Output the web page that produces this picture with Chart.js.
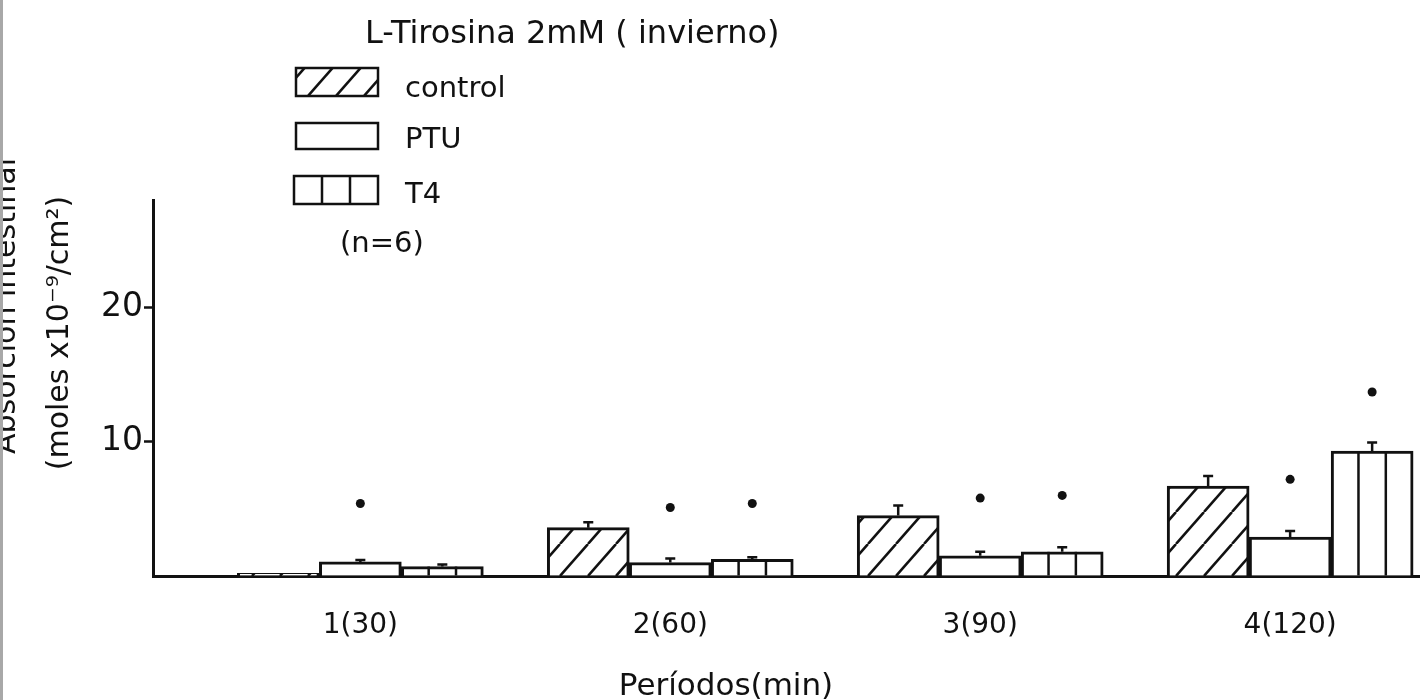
<!DOCTYPE html>
<html>
<head>
<meta charset="utf-8">
<script src="https://cdn.jsdelivr.net/npm/chart.js@4.4.1/dist/chart.umd.min.js"></script>
<style>
  html, body { margin: 0; padding: 0; background: #fff; overflow: hidden; }
  #wrap { position: relative; width: 1420px; height: 700px; }
  #edge { position: absolute; left: 0; top: 0; width: 3px; height: 700px; background: #a8a8a8; }
</style>
</head>
<body>
<div id="wrap">
  <canvas id="chart"></canvas>
  <div id="edge"></div>
</div>
<script>
// periods (min)
const periods = ['1(30)', '2(60)', '3(90)', '4(120)'];
const seriesNames = ['control', 'PTU', 'T4'];

// absorption, moles x10^-9 / cm2
const control = [0.2, 3.6, 4.5, 6.7];
const ptu = [1.05, 1.0, 1.5, 2.9];
const t4 = [0.7, 1.25, 1.8, 9.3];

// error bars (upper only)
const controlErr = [0, 0.4, 0.75, 0.75];
const ptuErr = [0.15, 0.3, 0.3, 0.45];
const t4Err = [0.15, 0.15, 0.35, 0.65];

// significance dots drawn above the bars
const ptuDots = [5.4, 5.1, 5.8, 7.2];
const t4Dots = [null, 5.4, 6.0, 13.7];

const yTicks = [10, 20];
const ink = '#111';
const FONT = '"DejaVu Sans", sans-serif';

const canvas = document.getElementById('chart');
const ctx = canvas.getContext('2d');

function makeHatch() {
  const w = 28, h = 32;
  const c = document.createElement('canvas');
  c.width = w; c.height = h;
  const g = c.getContext('2d');
  g.fillStyle = '#fff';
  g.fillRect(0, 0, w, h);
  g.strokeStyle = ink;
  g.lineWidth = 2.5;
  for (const k of [-1, 0, 1]) {
    g.beginPath();
    g.moveTo(k * w, h);
    g.lineTo(k * w + w, 0);
    g.stroke();
  }
  return ctx.createPattern(c, 'repeat');
}
const hatch = makeHatch();

const toPoints = arr => arr.map((v, i) => ({ x: i + 1, y: v }));

// error bars, dots and T4 dividers, all placed from the bar elements / y scale
const extras = {
  id: 'extras',
  afterDatasetsDraw(chart) {
    const c = chart.ctx;
    const y = chart.scales.y;
    const errs = [controlErr, ptuErr, t4Err];
    const vals = [control, ptu, t4];
    c.save();
    c.strokeStyle = ink;
    c.fillStyle = ink;
    c.lineWidth = 2.5;

    // T4 vertical dividers
    chart.getDatasetMeta(2).data.forEach(bar => {
      const left = bar.x - bar.width / 2;
      for (const f of [1 / 3, 2 / 3]) {
        const xx = left + bar.width * f;
        c.beginPath();
        c.moveTo(xx, bar.base);
        c.lineTo(xx, bar.y);
        c.stroke();
      }
    });

    // error bars
    errs.forEach((errArr, di) => {
      chart.getDatasetMeta(di).data.forEach((bar, i) => {
        if (!errArr[i]) return;
        const top = y.getPixelForValue(vals[di][i] + errArr[i]);
        c.beginPath();
        c.moveTo(bar.x, bar.y);
        c.lineTo(bar.x, top);
        c.moveTo(bar.x - 5, top);
        c.lineTo(bar.x + 5, top);
        c.stroke();
      });
    });

    // dots
    [[1, ptuDots], [2, t4Dots]].forEach(([di, dots]) => {
      chart.getDatasetMeta(di).data.forEach((bar, i) => {
        if (dots[i] == null) return;
        c.beginPath();
        c.arc(bar.x, y.getPixelForValue(dots[i]), 4.5, 0, Math.PI * 2);
        c.fill();
      });
    });
    c.restore();
  },
  afterDraw(chart) {
    const c = chart.ctx;
    c.save();
    c.fillStyle = ink;
    c.strokeStyle = ink;
    c.textBaseline = 'alphabetic';

    // legend block
    c.font = '32px ' + FONT;
    c.textAlign = 'left';
    c.fillText('L-Tirosina 2mM ( invierno)', 365, 43);

    c.lineWidth = 2.5;
    c.fillStyle = hatch;
    c.fillRect(296, 68, 82, 28);
    c.strokeRect(296, 68, 82, 28);
    c.fillStyle = '#fff';
    c.fillRect(296, 123, 82, 26);
    c.strokeRect(296, 123, 82, 26);
    c.fillRect(294, 176, 84, 28);
    c.strokeRect(294, 176, 84, 28);
    c.beginPath();
    c.moveTo(322, 176); c.lineTo(322, 204);
    c.moveTo(350, 176); c.lineTo(350, 204);
    c.stroke();

    c.fillStyle = ink;
    c.font = '29px ' + FONT;
    c.fillText(seriesNames[0], 405, 97);
    c.fillText(seriesNames[1], 405, 148);
    c.fillText(seriesNames[2], 405, 203);
    c.fillText('(n=6)', 340, 252);

    // x title
    c.font = '31px ' + FONT;
    c.textAlign = 'center';
    c.fillText('Períodos(min)', 726, 695);

    // y title, two lines, first one partly off the left edge
    c.font = '30px ' + FONT;
    c.save();
    c.translate(15, 306);
    c.rotate(-Math.PI / 2);
    c.fillText('Absorción intestinal', 0, 0);
    c.restore();
    c.save();
    c.translate(68, 333);
    c.rotate(-Math.PI / 2);
    c.fillText('(moles x10⁻⁹/cm²)', 0, 0);
    c.restore();

    c.restore();
  }
};

new Chart(ctx, {
  type: 'bar',
  data: {
    datasets: [
      { label: seriesNames[0], data: toPoints(control), backgroundColor: hatch, borderColor: ink, borderWidth: 3, barThickness: 82 },
      { label: seriesNames[1], data: toPoints(ptu), backgroundColor: '#fff', borderColor: ink, borderWidth: 3, barThickness: 82 },
      { label: seriesNames[2], data: toPoints(t4), backgroundColor: '#fff', borderColor: ink, borderWidth: 3, barThickness: 82 }
    ]
  },
  options: {
    responsive: true,
    maintainAspectRatio: false,
    animation: false,
    layout: { padding: { top: 200, left: 0, right: 0, bottom: 0 } },
    plugins: {
      legend: { display: false },
      tooltip: { enabled: false },
      title: { display: false }
    },
    scales: {
      x: {
        type: 'linear',
        min: 0.331,
        max: 4.419,
        offset: false,
        z: 1,
        grid: { display: false, drawTicks: false, offset: false },
        border: { display: true, color: ink, width: 3 },
        ticks: {
          stepSize: 1,
          includeBounds: false,
          padding: 33,
          color: ink,
          font: { family: FONT, size: 28 },
          callback: v => periods[v - 1] || ''
        },
        afterFit: s => { s.height = 124; }
      },
      y: {
        min: 0,
        max: 28,
        z: 1,
        grid: {
          display: true,
          drawOnChartArea: false,
          drawTicks: true,
          tickLength: 9,
          tickWidth: 2.5,
          tickColor: c => (c.tick && yTicks.includes(c.tick.value)) ? ink : 'rgba(0,0,0,0)'
        },
        border: { display: true, color: ink, width: 3 },
        ticks: {
          stepSize: 10,
          includeBounds: false,
          padding: 1,
          color: ink,
          font: { family: FONT, size: 33 },
          callback: v => yTicks.includes(v) ? String(v) : ''
        },
        afterFit: s => { s.width = 153; }
      }
    }
  },
  plugins: [extras]
});
</script>
</body>
</html>
